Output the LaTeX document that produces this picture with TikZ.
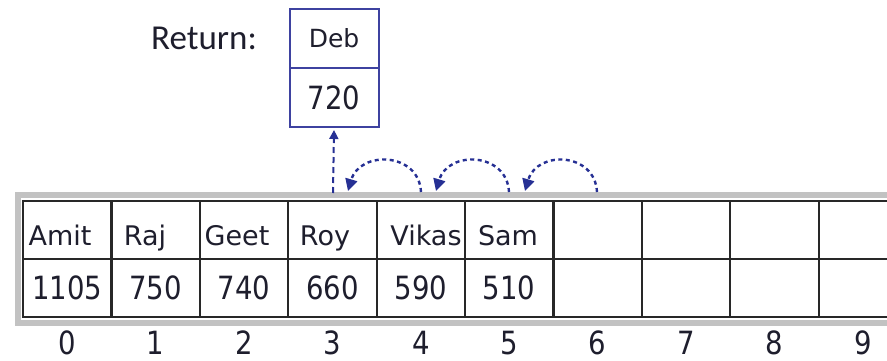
\documentclass[tikz,border=0pt]{standalone}
\usepackage{fontspec}
\setmainfont{DejaVu Sans}
\newfontfamily\numfont[FakeStretch=0.86]{DejaVu Sans}
\newfontfamily\namefont{DejaVu Sans}
\newfontfamily\capfont{Carlito}
\usetikzlibrary{arrows.meta}
\definecolor{boxblue}{RGB}{62,66,160}
\definecolor{arrowblue}{RGB}{38,48,148}
\definecolor{framegray}{RGB}{194,194,194}
\definecolor{gridline}{RGB}{40,40,40}
\definecolor{ink}{RGB}{30,30,45}
\begin{document}
\begin{tikzpicture}[x=1pt,y=-1pt,
  cell/.style={draw=gridline,line width=2.2pt,minimum width=88.4pt,minimum height=58pt,
    inner sep=0pt,outer sep=0pt,text=ink,font=\numfont\fontsize{32}{36}\selectfont},
  namelbl/.style={anchor=base,inner sep=0pt,text=ink,font=\namefont\fontsize{27}{30}\selectfont},
  idxlbl/.style={anchor=base,inner sep=0pt,text=ink,font=\numfont\fontsize{32}{36}\selectfont},
  retbox/.style={draw=boxblue,line width=2pt,minimum width=89pt,minimum height=59pt,
    inner sep=0pt,outer sep=0pt,text=ink},
  shiftarrow/.style={draw=arrowblue,line width=2.4pt,dash pattern=on 4pt off 3.5pt,
    -{Triangle[length=12pt,width=12pt]}},
  pullarrow/.style={draw=arrowblue,line width=2pt,dash pattern=on 6pt off 4pt,
    -{Triangle[length=9pt,width=9pt]}}
]
\useasboundingbox (0,0) rectangle (887,361);

% gray frame around the array
\fill[framegray] (15,192) rectangle (900,326);
\fill[white] (21,198) rectangle (900,320);

% array cells: names on top, values below, indices underneath
\foreach \v [count=\i from 0] in {1105,750,740,660,590,510,,,,} {
  \node[cell] (top\i) at (67.2+88.4*\i,230) {};
  \node[cell] (bot\i) at (67.2+88.4*\i,288) {\v};
  \node[idxlbl] (idx\i) at (67.2+88.4*\i,354) {\i};
}

% names in the upper row
\node[namelbl] (n0) at (60,245) {Amit};
\node[namelbl] (n1) at (145,245) {Raj};
\node[namelbl] (n2) at (237,245) {Geet};
\node[namelbl] (n3) at (325,245) {Roy};
\node[namelbl] (n4) at (426,245) {Vikas};
\node[namelbl] (n5) at (508,245) {Sam};

% returned record
\node[anchor=base west,inner sep=0pt,text=ink,font=\capfont\fontsize{35}{40}\selectfont]
  (retlbl) at (151,50) {Return:};
\node[retbox,font=\namefont\fontsize{25}{28}\selectfont] (retname) at (334,38.5) {Deb};
\node[retbox,font=\numfont\fontsize{32}{36}\selectfont] (retval) at (334,97.5) {720};

% arrow anchors just above the array
\coordinate (up3) at (333,193);
\coordinate (s4) at (421,192);
\coordinate (s5) at (509,192);
\coordinate (s6) at (597,192);
\coordinate (e3) at (348,191);
\coordinate (e4) at (436,191);
\coordinate (e5) at (525,191);

\draw[pullarrow] (up3) -- ([yshift=-3pt]retval.south);
\draw[shiftarrow] (s4) .. controls (419,152) and (360,150) .. (e3);
\draw[shiftarrow] (s5) .. controls (507,152) and (448,150) .. (e4);
\draw[shiftarrow] (s6) .. controls (595,152) and (537,150) .. (e5);
\end{tikzpicture}
\end{document}
